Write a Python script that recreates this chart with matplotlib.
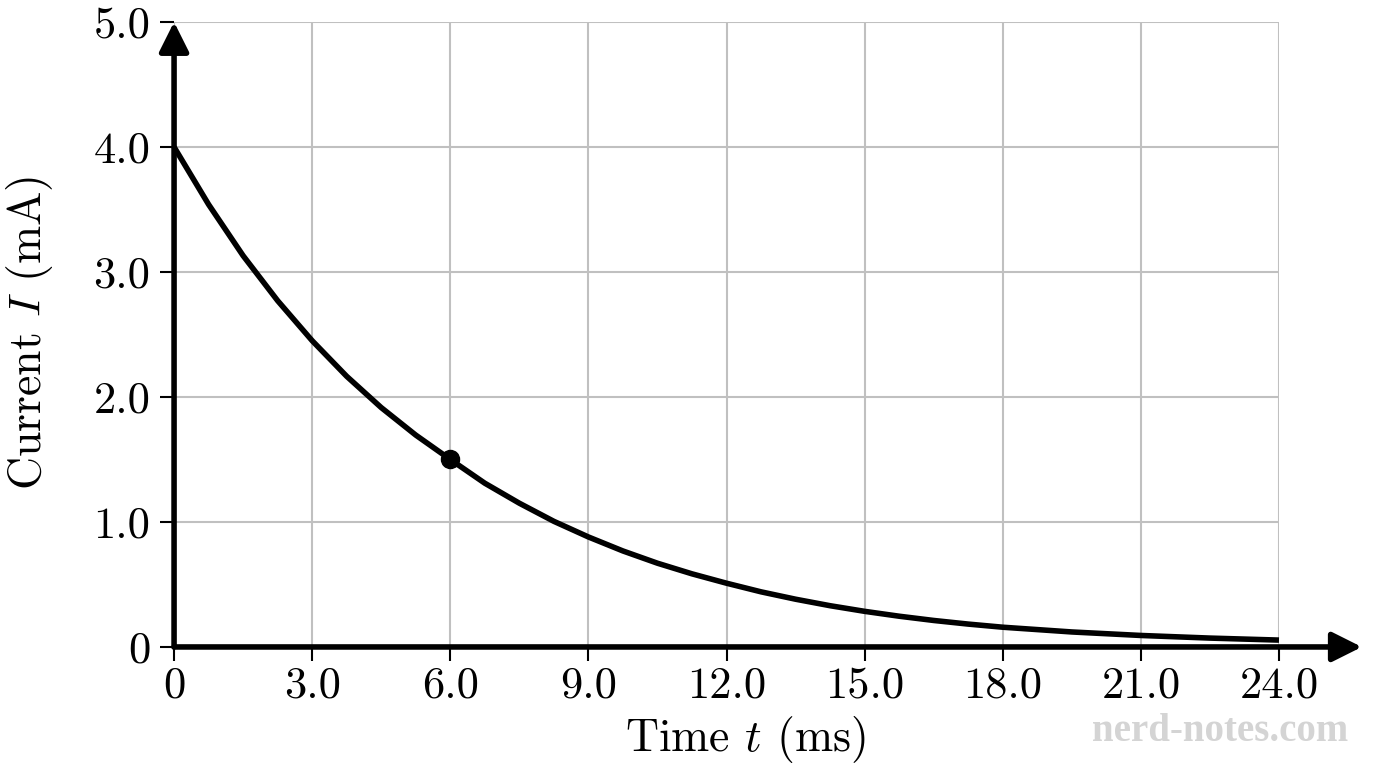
import matplotlib
matplotlib.use("Agg")
import matplotlib.pyplot as plt

# --- data ---
time_ms = [0, 0.75, 1.5, 2.25, 3, 3.75, 4.5, 5.25, 6, 6.75, 7.5, 8.25, 9,
           9.75, 10.5, 11.25, 12, 12.75, 13.5, 14.25, 15, 15.75, 16.5, 17.25,
           18, 19.5, 21, 22.5, 24]
current_mA = [4.0, 3.54, 3.13, 2.77, 2.45, 2.165, 1.915, 1.695, 1.5, 1.31, 1.15,
              1.005, 0.88, 0.768, 0.67, 0.585, 0.51, 0.441, 0.382, 0.33, 0.285,
              0.246, 0.212, 0.183, 0.158, 0.12, 0.092, 0.071, 0.055]
marked_t = [6.0]
marked_I = [1.5]

x_ticks = [0, 3, 6, 9, 12, 15, 18, 21, 24]
x_labels = ["0", "3.0", "6.0", "9.0", "12.0", "15.0", "18.0", "21.0", "24.0"]
y_ticks = [0, 1, 2, 3, 4, 5]
y_labels = ["0", "1.0", "2.0", "3.0", "4.0", "5.0"]

plt.rcParams['font.family'] = 'serif'
plt.rcParams['font.serif'] = ['cmr10', 'DejaVu Serif']
plt.rcParams['mathtext.fontset'] = 'cm'
plt.rcParams['axes.unicode_minus'] = False

fig = plt.figure(figsize=(13.76, 7.68), dpi=100)
ax = fig.add_axes([0.1265, 0.1576, 0.803, 0.8138])
ax.set_xlim(0, 24)
ax.set_ylim(0, 5)
for s in ax.spines.values():
    s.set_visible(False)

ax.set_xticks(x_ticks)
ax.set_xticklabels(x_labels)
ax.set_yticks(y_ticks)
ax.set_yticklabels(y_labels)
ax.tick_params(direction='out', length=10, width=1.5, labelsize=32, color='black')
ax.tick_params(axis='x', pad=4)
ax.tick_params(axis='y', pad=7)
ax.grid(True, color='#c0c0c0', lw=1.5)
ax.set_axisbelow(True)

# axes drawn as arrows
arrow = dict(arrowstyle='-|>', lw=4, color='black', mutation_scale=45,
             shrinkA=0, shrinkB=0)
ax.annotate('', xy=(25.8, 0), xytext=(0, 0), arrowprops=arrow, annotation_clip=False, zorder=4)
ax.annotate('', xy=(0, 5), xytext=(0, 0), arrowprops=arrow, annotation_clip=False, zorder=4)

ax.plot(time_ms, current_mA, color='black', lw=4, solid_capstyle='butt',
        solid_joinstyle='round', clip_on=False, zorder=5)
ax.plot(marked_t, marked_I, 'o', color='black', ms=13, zorder=6)

ax.set_xlabel(r"Time $t$ (ms)", fontsize=33)
ax.xaxis.set_label_coords(0.517, -0.108)
ax.set_ylabel(r"Current $I$ (mA)", fontsize=33)
ax.yaxis.set_label_coords(-0.1075, 0.502)

fig.text(0.8866, 0.047, "nerd-notes.com", fontsize=28, color='#d4d4d4',
         family='Liberation Serif', weight='bold', ha='center', va='center')

plt.savefig("out.png", dpi=100)
